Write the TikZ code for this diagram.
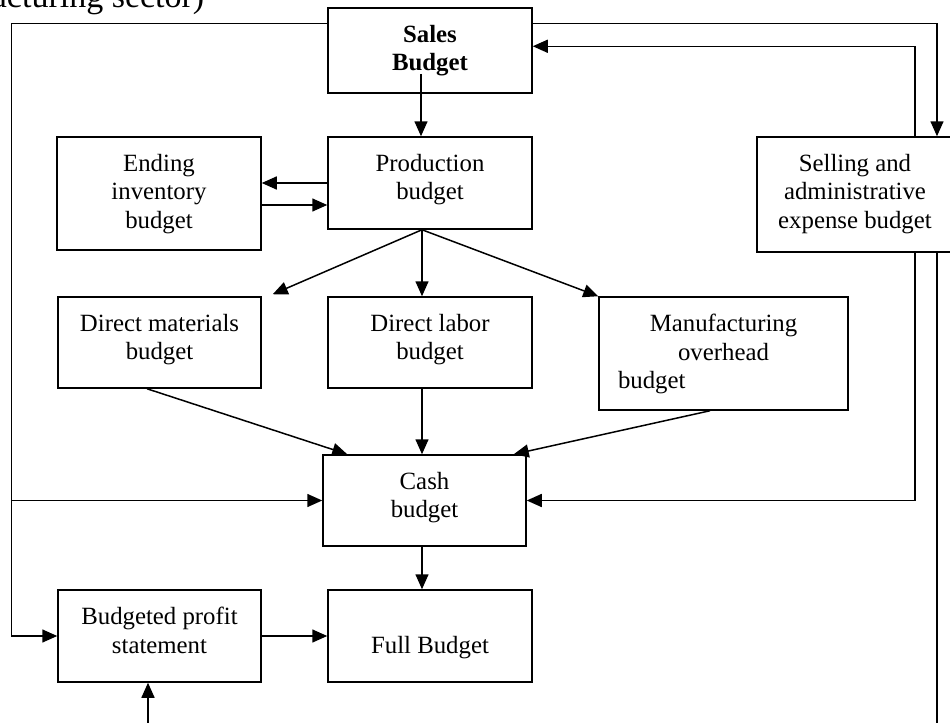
\documentclass[tikz,border=0pt]{standalone}
\usepackage{fontspec}
\setmainfont{Liberation Serif}
\usetikzlibrary{arrows.meta}

\begin{document}
\begin{tikzpicture}[x=0.5pt, y=-0.5pt, line width=0.75pt, >={Triangle[length=7.5pt,width=6.5pt]},
  every label/.style={font=\fontsize{12.4}{14.2}\selectfont},
  box/.style={draw, rectangle, inner sep=0pt, minimum width=102pt, minimum height=46pt},
  intext/.style={label={[anchor=north, align=center, inner sep=0pt, yshift=-8.6pt]north:#1}}]
\useasboundingbox (0,0) rectangle (950,723);
\node[anchor=base east, inner sep=0pt, font=\fontsize{17}{20}\selectfont] (sector) at (205,7) {manufacturing sector)};
\node[box, minimum height=42.5pt, intext={\textbf{Sales}\\\textbf{Budget}}] (sales) at (430,50.5) {};
\node[box, minimum height=56.5pt, intext={Ending\\inventory\\budget}] (ending) at (159,193.5) {};
\node[box, intext={Production\\budget}] (prod) at (430,183) {};
\node[box, minimum width=98pt, minimum height=57.5pt, intext={Selling and\\administrative\\expense budget}] (selling) at (855,194.5) {};
\node[box, minimum width=101.5pt, minimum height=45.5pt, intext={Direct materials\\budget}] (dmat) at (159.5,342.5) {};
\node[box, minimum height=45.5pt, intext={Direct labor\\budget}] (dlab) at (430,342.5) {};
\node[box, minimum width=124.5pt, minimum height=56.5pt, intext={Manufacturing\\overhead\\\makebox[105.5pt][l]{budget}}] (moh) at (723.5,353.5) {};
\node[box, minimum width=101.5pt, minimum height=45.5pt, intext={Cash\\budget}] (cash) at (424.5,500.5) {};
\node[box, minimum width=101.5pt, intext={Budgeted profit\\statement}] (profit) at (159.5,636) {};
\node[box, label={[anchor=north, inner sep=0pt, yshift=-23pt]north:Full Budget}] (full) at (430,636) {};
\coordinate (rightend) at (937,723);
\coordinate (bottomend) at (148,723);
% lines round the outside
\draw[->] ([yshift=-8pt]sales.north west) -| ([xshift=-23pt]profit.west) -- (profit.west);
\draw[->] ([xshift=-23pt]profit.west |- cash.west) -- (cash.west);
\draw[->] ([yshift=-8pt]sales.north east) -| ([xshift=41pt]selling.north);
\draw[->] ([xshift=30pt]selling.north) |- ([yshift=-19.5pt]sales.north east);
\draw[->] ([xshift=30pt]selling.south) |- (cash.east);
\draw ([xshift=41pt]selling.south) -- (rightend);
\draw[->] (bottomend) -- (bottomend |- profit.south);
% middle column
\draw[->] ([xshift=-4.5pt,yshift=10pt]sales.south) -- ([xshift=-4.5pt]prod.north);
\draw[->] (prod.west) -- (prod.west -| ending.east);
\draw[->] ([yshift=-11pt]prod.west -| ending.east) -- ([yshift=-11pt]prod.west);
\draw[->] ([xshift=-4pt]prod.south) -- ([xshift=5.5pt,yshift=1pt]dmat.north east);
\draw[->] ([xshift=-4pt]prod.south) -- ([xshift=-4pt]dlab.north);
\draw[->] ([xshift=-4pt]prod.south) -- (moh.north west);
\draw[->] ([xshift=-6.25pt]dmat.south) -- ([xshift=12.5pt]cash.north west);
\draw[->] ([xshift=-4pt]dlab.south) -- ([xshift=-4pt]dlab.south |- cash.north);
\draw[->] ([xshift=-6.75pt]moh.south) -- ([xshift=-6.5pt]cash.north east);
\draw[->] ([xshift=-1.25pt]cash.south) -- ([xshift=-1.25pt]cash.south |- full.north);
\draw[->] (profit.east) -- (full.west);
\end{tikzpicture}
\end{document}
